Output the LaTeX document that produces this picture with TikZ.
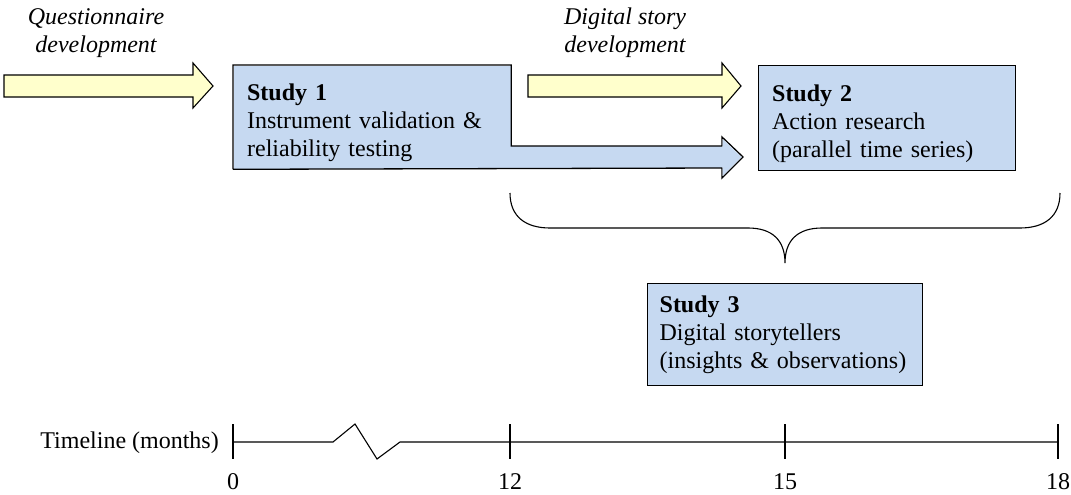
\documentclass[tikz,border=0pt]{standalone}
\usepackage{fontspec}
\setmainfont{Liberation Serif}
\definecolor{boxblue}{HTML}{C6D9F1}
\definecolor{arrowyellow}{HTML}{FFFFCC}
\begin{document}
\begin{tikzpicture}[x=1pt,y=-1pt,
  every node/.style={font=\fontsize{24}{28}\selectfont},
  studybox/.style={anchor=north west, fill=boxblue, draw=black, line width=1.3pt, align=left, inner xsep=13pt, inner ysep=0pt},
  yarrow/.style={fill=arrowyellow, draw=black, line width=1.1pt, line join=miter},
  phase/.style={font=\fontsize{24}{28}\selectfont\itshape, align=center},
  tl/.style={line width=1.1pt}]
\useasboundingbox (0,0) rectangle (1071,495);

% Study 1 (fill only; outline drawn together with its arrow)
\node[studybox, draw=none, minimum width=277pt, minimum height=103pt, text width=250pt] (s1) at (233,65)
  {\rule{0pt}{27pt}\textbf{Study 1}\\Instrument validation \&\\reliability testing};
\fill[boxblue] ([xshift=-1pt]s1.east |- 0,146) coordinate (a1) -- (722,146) -- (722,168) -- (a1 |- 0,168) -- cycle;
\draw[line width=1.3pt, line join=miter] (s1.south west) -- (s1.north west) -- (s1.north east) -- (s1.east |- 0,146) -- (722,146) -- (722,137) -- (743,157) -- (722,178) -- (722,168) -- (s1.south west);
\fill[boxblue] (722,146.6) -- (722,167.4) -- (741.5,157) -- cycle;
\fill[boxblue] (722.6,139) -- (741.5,157) -- (722.6,176) -- cycle;

% Study 2
\node[studybox, minimum width=257pt, minimum height=105pt, text width=230pt] (s2) at (758,65)
  {\rule{0pt}{27pt}\textbf{Study 2}\\Action research\\(parallel time series)};

% Study 3
\node[studybox, inner xsep=12pt, minimum width=275pt, minimum height=102pt, text width=251pt] (s3) at (647,283)
  {\textbf{Study 3}\\Digital storytellers\\(insights \& observations)};

% Yellow arrows
\draw[yarrow] (4,75) -- (193,75) -- (193,63) -- (213,86) -- (193,108) -- (193,97) -- (4,97) -- cycle;
\draw[yarrow] (528,75) -- (722,75) -- (722,63) -- (741,86) -- (722,108) -- (722,97) -- (528,97) -- cycle;

% Phase labels
\node[phase] (q) at (96,33) {Questionnaire\\development};
\node[phase] (d) at (625,33) {Digital story\\development};

% Brace
\coordinate (bl) at (510,193);
\coordinate (br) at (1060,193);
\coordinate (bt) at (785,263);
\draw[line width=1.1pt] (bl) .. controls (510,217) and (526,228) .. (550,228) -- (748,228)
  .. controls (772,228) and (785,240) .. (bt)
  .. controls (785,240) and (798,228) .. (822,228) -- (1020,228)
  .. controls (1044,228) and (1060,217) .. (br);

% Timeline
\coordinate (t0) at (233,442);
\coordinate (t12) at (510,442);
\coordinate (t15) at (785,442);
\coordinate (t18) at (1058,442);
\node[anchor=east, inner sep=0pt] (tlabel) at (219,443) {Timeline (months)};
\draw[tl] (t0) -- (333,442) -- (355,424) -- (377,459) -- (400,442) -- (t18);
\foreach \p/\l in {t0/0,t12/12,t15/15,t18/18}{
  \draw[tl] ([yshift=18pt]\p) -- ([yshift=-17pt]\p);
  \node[inner sep=0pt] (lab\l) at ([yshift=-40pt]\p) {\l};
}
\end{tikzpicture}
\end{document}
